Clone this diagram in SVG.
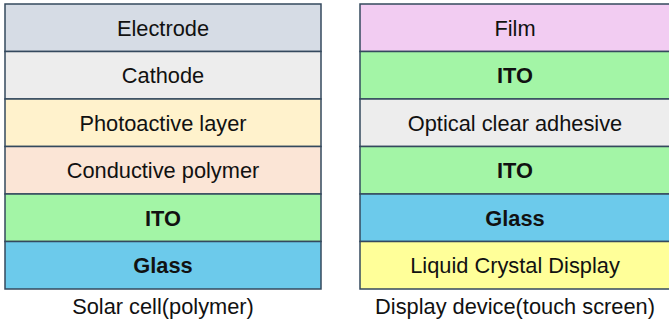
<svg xmlns="http://www.w3.org/2000/svg" width="669" height="326" viewBox="0 0 669 326">
<style>
.l{stroke:#34495e;stroke-width:1.5}
.t{font-family:"Liberation Sans",Arial,sans-serif;font-size:21.8px;fill:#111;text-anchor:middle}
.b{font-weight:bold}
</style>
<rect width="669" height="326" fill="#fff"/>
<g id="solar">
<g id="s-electrode"><rect class="l" x="5" y="4" width="316" height="47.5" fill="#d6dce5"/><text class="t" x="163" y="35.5">Electrode</text></g>
<g id="s-cathode"><rect class="l" x="5" y="51.5" width="316" height="47.5" fill="#ededed"/><text class="t" x="163" y="83">Cathode</text></g>
<g id="s-photo"><rect class="l" x="5" y="99" width="316" height="47.5" fill="#fff2cc"/><text class="t" x="163" y="130.5">Photoactive layer</text></g>
<g id="s-poly"><rect class="l" x="5" y="146.5" width="316" height="47.5" fill="#fbe5d6"/><text class="t" x="163" y="178">Conductive polymer</text></g>
<g id="s-ito"><rect class="l" x="5" y="194" width="316" height="47.5" fill="#a3f5a6"/><text class="t b" x="163" y="225.5">ITO</text></g>
<g id="s-glass"><rect class="l" x="5" y="241.5" width="316" height="47.5" fill="#6ccaeb"/><text class="t b" x="163" y="273">Glass</text></g>
<text class="t" x="163" y="313.5">Solar cell(polymer)</text>
</g>
<g id="display">
<g id="d-film"><rect class="l" x="360" y="4" width="310" height="47.5" fill="#f2ccf2"/><text class="t" x="515" y="35.5">Film</text></g>
<g id="d-ito1"><rect class="l" x="360" y="51.5" width="310" height="47.5" fill="#a3f5a6"/><text class="t b" x="515" y="83">ITO</text></g>
<g id="d-oca"><rect class="l" x="360" y="99" width="310" height="47.5" fill="#ededed"/><text class="t" x="515" y="130.5">Optical clear adhesive</text></g>
<g id="d-ito2"><rect class="l" x="360" y="146.5" width="310" height="47.5" fill="#a3f5a6"/><text class="t b" x="515" y="178">ITO</text></g>
<g id="d-glass"><rect class="l" x="360" y="194" width="310" height="47.5" fill="#6ccaeb"/><text class="t b" x="515" y="225.5">Glass</text></g>
<g id="d-lcd"><rect class="l" x="360" y="241.5" width="310" height="47.5" fill="#ffff99"/><text class="t" x="515" y="273">Liquid Crystal Display</text></g>
<text class="t" x="515" y="313.5">Display device(touch screen)</text>
</g>
<g id="connectors"/>
</svg>
